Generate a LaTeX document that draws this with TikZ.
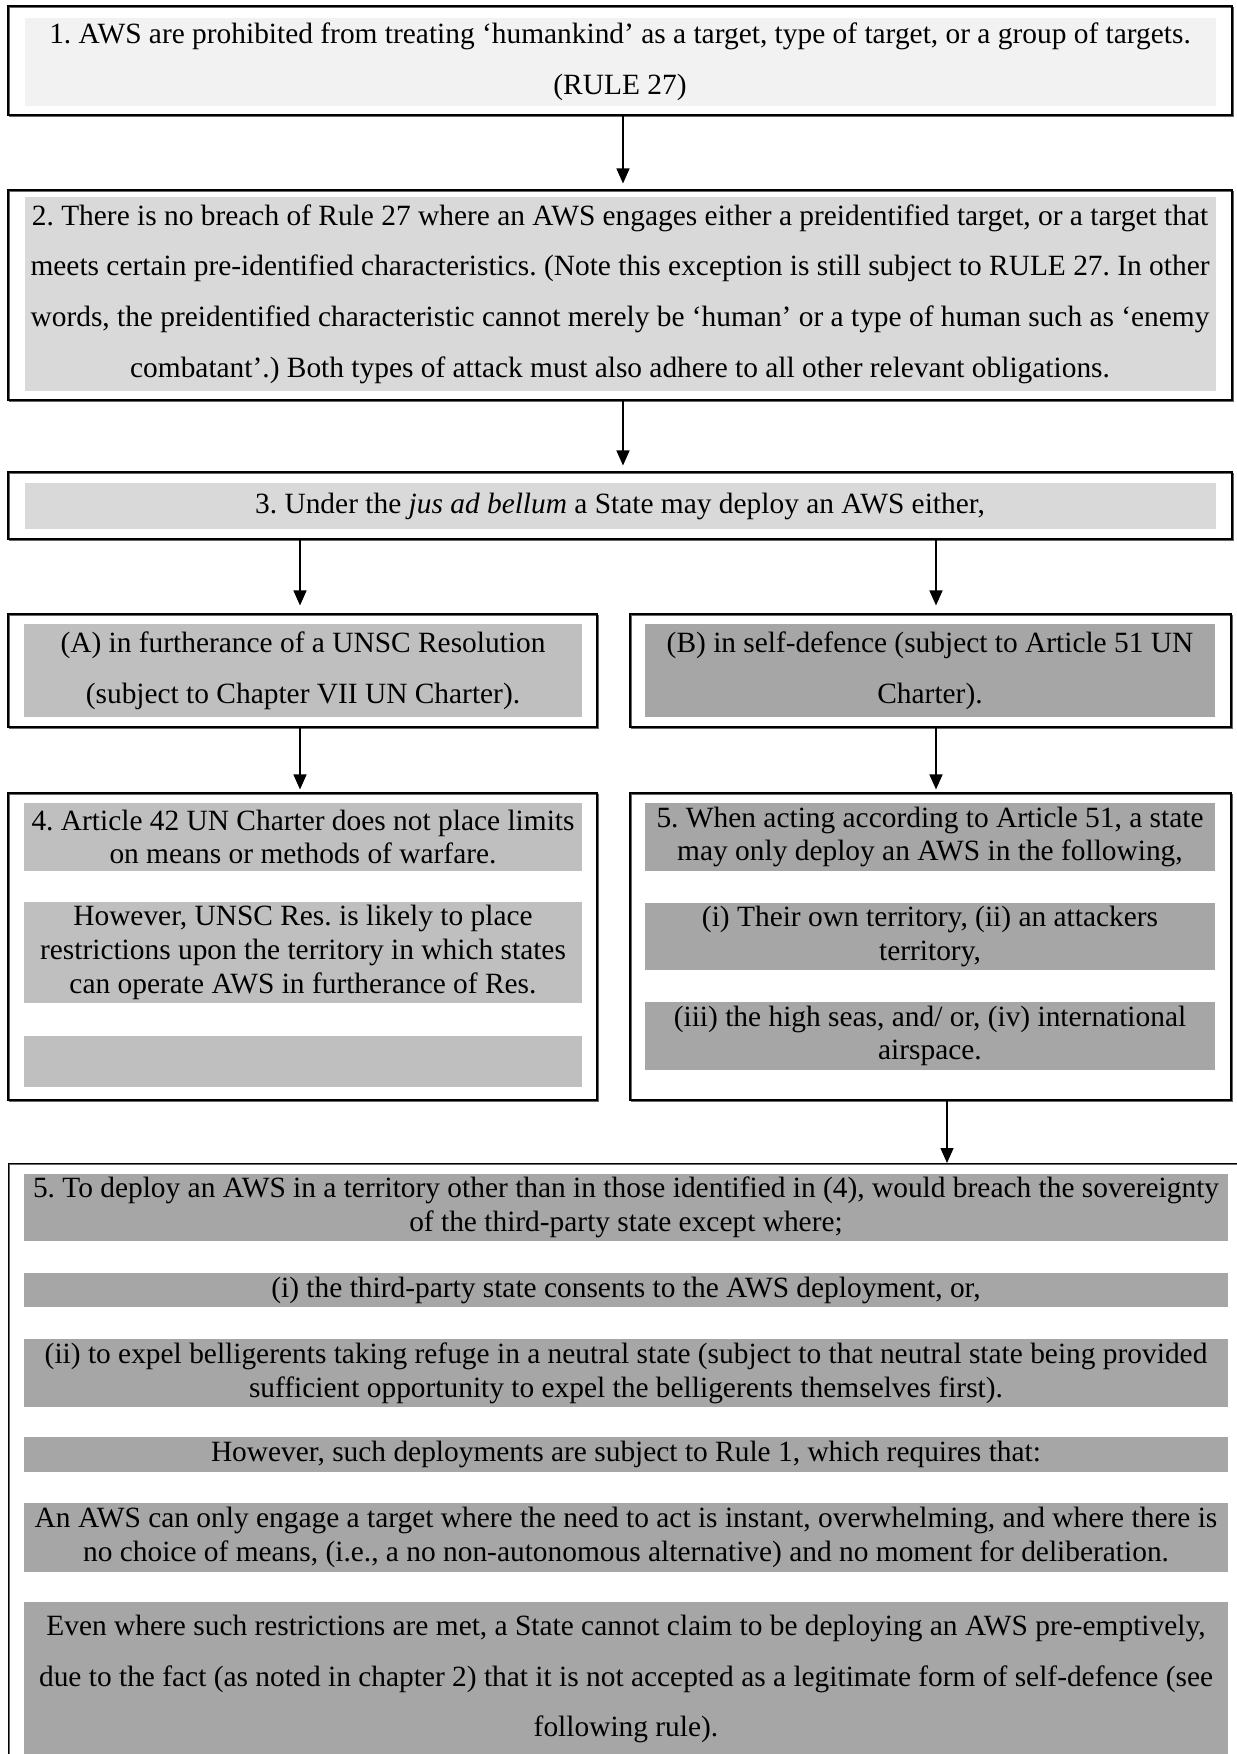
\documentclass[tikz,border=0pt]{standalone}
\usepackage{fontspec}
\setmainfont{Liberation Serif}
\usetikzlibrary{arrows.meta}
\definecolor{gA}{HTML}{F2F2F2}
\definecolor{gB}{HTML}{D9D9D9}
\definecolor{gC}{HTML}{BFBFBF}
\definecolor{gD}{HTML}{A6A6A6}
\definecolor{shadowgray}{HTML}{666666}
\frenchspacing
\begin{document}
\begin{tikzpicture}[x=1pt,y=-1pt,
  frame/.style={rectangle, draw=black, line width=1.1pt, inner sep=0pt,
    preaction={draw=shadowgray, line width=1pt, transform canvas={shift={(1pt,-1pt)}}}},
  bar/.style={rectangle, inner sep=0pt, align=center, font=\fontsize{29.4}{33.8}\selectfont},
  widebar/.style={bar, font=\fontsize{29.4}{50.7}\selectfont},
  arr/.style={line width=1.4pt, -{Triangle[width=13pt,length=15pt]}}]
\fill[white] (0,0) rectangle (1237,1754);
\useasboundingbox (0,0) rectangle (1237,1754);
\clip (0,0) rectangle (1237,1754);

% ---- frames ----
\node[frame, minimum width=1224pt, minimum height=109pt] (b1) at (620,60.5) {};
\node[frame, minimum width=1224pt, minimum height=210pt] (b2) at (620,295) {};
\node[frame, minimum width=1224pt, minimum height=67pt] (b3) at (620,505.5) {};
\node[frame, minimum width=589pt, minimum height=113pt] (bA) at (302.5,670.5) {};
\node[frame, minimum width=601pt, minimum height=113pt] (bB) at (930.5,670.5) {};
\node[frame, minimum width=589pt, minimum height=307pt] (b4) at (302.5,946.5) {};
\node[frame, minimum width=601pt, minimum height=307pt] (b5) at (930.5,946.5) {};
\node[frame, minimum width=1250pt, minimum height=620pt, anchor=north west] (b6) at (7.5,1163) {};

% ---- text bars ----
\node[widebar, fill=gA, minimum width=1191pt, minimum height=88pt] (t1) at (620,62)
  {1. AWS are prohibited from treating ‘humankind’ as a target, type of target, or a group of targets.\\(RULE 27)};
\node[widebar, fill=gB, minimum width=1191pt, minimum height=194pt] (t2) at (620,294)
  {2. There is no breach of Rule 27 where an AWS engages either a preidentified target, or a target that\\
   meets certain pre-identified characteristics. (Note this exception is still subject to RULE 27. In other\\
   words, the preidentified characteristic cannot merely be ‘human’ or a type of human such as ‘enemy\\
   combatant’.) Both types of attack must also adhere to all other relevant obligations.};
\node[bar, fill=gB, minimum width=1191pt, minimum height=46pt] (t3) at (620,506)
  {3. Under the \textit{jus ad bellum} a State may deploy an AWS either,};
\node[widebar, fill=gC, minimum width=558pt, minimum height=93pt] (tA) at (303,670.5)
  {(A) in furtherance of a UNSC Resolution\\(subject to Chapter VII UN Charter).};
\node[widebar, fill=gD, minimum width=570pt, minimum height=93pt] (tB) at (930,670.5)
  {(B) in self-defence (subject to Article 51 UN\\Charter).};
\node[bar, fill=gC, minimum width=558pt, minimum height=68pt] (t4a) at (303,837)
  {4. Article 42 UN Charter does not place limits\\on means or methods of warfare.};
\node[bar, fill=gC, minimum width=558pt, minimum height=101pt] (t4b) at (303,952.5)
  {However, UNSC Res. is likely to place\\restrictions upon the territory in which states\\can operate AWS in furtherance of Res.};
\node[bar, fill=gC, minimum width=558pt, minimum height=51pt] (t4c) at (303,1061.5) {};
\node[bar, fill=gD, minimum width=570pt, minimum height=68pt] (t5a) at (930,837)
  {5. When acting according to Article 51, a state\\may only deploy an AWS in the following,};
\node[bar, fill=gD, minimum width=570pt, minimum height=67pt] (t5b) at (930,936.5)
  {(i) Their own territory, (ii) an attackers\\territory,};
\node[bar, fill=gD, minimum width=570pt, minimum height=68pt] (t5c) at (930,1036)
  {(iii) the high seas, and/ or, (iv) international\\airspace.};
\node[bar, fill=gD, minimum width=1204pt, minimum height=67pt] (t6a) at (626,1207.5)
  {5. To deploy an AWS in a territory other than in those identified in (4), would breach the sovereignty\\of the third-party state except where;};
\node[bar, fill=gD, minimum width=1204pt, minimum height=34pt] (t6b) at (626,1290)
  {(i) the third-party state consents to the AWS deployment, or,};
\node[bar, fill=gD, minimum width=1204pt, minimum height=68pt] (t6c) at (626,1373)
  {(ii) to expel belligerents taking refuge in a neutral state (subject to that neutral state being provided\\sufficient opportunity to expel the belligerents themselves first).};
\node[bar, fill=gD, minimum width=1204pt, minimum height=35pt] (t6d) at (626,1454.5)
  {However, such deployments are subject to Rule 1, which requires that:};
\node[bar, fill=gD, minimum width=1204pt, minimum height=69pt] (t6e) at (626,1537.5)
  {An AWS can only engage a target where the need to act is instant, overwhelming, and where there is\\no choice of means, (i.e., a no non-autonomous alternative) and no moment for deliberation.};
\node[widebar, fill=gD, minimum width=1204pt, minimum height=154pt] (t6f) at (626,1679)
  {Even where such restrictions are met, a State cannot claim to be deploying an AWS pre-emptively,\\
   due to the fact (as noted in chapter 2) that it is not accepted as a legitimate form of self-defence (see\\
   following rule).};

% ---- connectors ----
\draw[arr, shorten >=6pt] ([xshift=3pt]b1.south) -- ([xshift=3pt]b2.north);
\draw[arr, shorten >=6pt] ([xshift=3pt]b2.south) -- ([xshift=3pt]b3.north);
\draw[arr, shorten >=8pt] ([xshift=-2.5pt]b3.south -| bA.north) -- ([xshift=-2.5pt]bA.north);
\draw[arr, shorten >=8pt] ([xshift=5.5pt]b3.south -| bB.north) -- ([xshift=5.5pt]bB.north);
\draw[arr, shorten >=3pt] ([xshift=-2.5pt]bA.south) -- ([xshift=-2.5pt]b4.north);
\draw[arr, shorten >=3pt] ([xshift=5.5pt]bB.south) -- ([xshift=5.5pt]b5.north);
\draw[arr] ([xshift=16.5pt]b5.south) -- ([xshift=16.5pt]b5.south |- b6.north);
\end{tikzpicture}
\end{document}
